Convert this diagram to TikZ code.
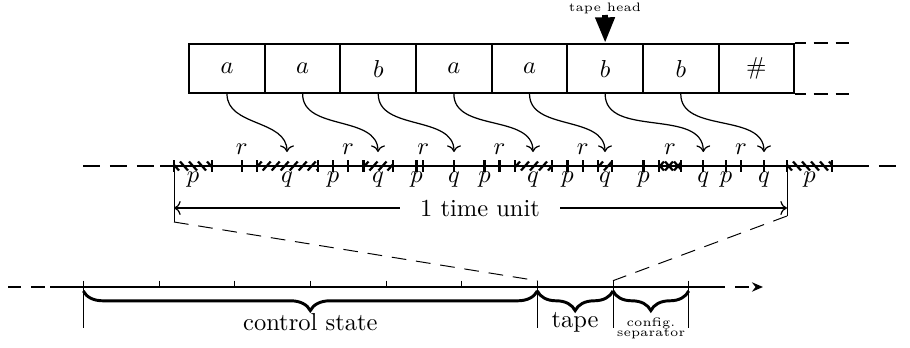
\documentclass[tikz,border=0pt]{standalone}
\usepackage{amsmath,amssymb}
\usepackage{tikz}
\usetikzlibrary{arrows.meta,positioning,decorations.pathreplacing}
% hatched zone on the time line: #1,#2 = ends, #3 = half rise of a stroke
\newcommand{\hzone}[3]{%
  \begin{scope}
    \clip (#1,160) rectangle (#2,172);
    \foreach \k in {0,...,7}
      \draw[hatch] ({#1+9*\k-3},{166+#3}) -- ++(8,{-2*(#3)});
  \end{scope}
  \draw[tck] (#1,160) -- (#1,172) (#2,160) -- (#2,172)}
\tikzset{
  cell/.style   ={draw, minimum width=30.9pt, minimum height=20pt,
                  inner sep=0pt, line width=0.8pt},
  tapeln/.style ={line width=0.8pt},
  axis/.style   ={line width=1.1pt},
  axisd/.style  ={line width=1.1pt, dash pattern=on 7pt off 4pt},
  axise/.style  ={line width=1.1pt, dash pattern=on 5.5pt off 4pt},
  tck/.style    ={line width=0.9pt},
  hatch/.style  ={line width=0.9pt},
  feed/.style   ={->, line width=0.5pt},
  guide/.style  ={line width=0.4pt},
  zoomln/.style ={line width=0.4pt, dash pattern=on 6pt off 4pt},
  brc/.style    ={decorate, decoration={brace, mirror, amplitude=8pt},
                  line width=1.2pt},
  headarr/.style={-{Triangle[length=10.5pt, width=7.5pt]}, line width=2.4pt},
  lab/.style    ={inner sep=0pt},
  small/.style  ={inner sep=0pt, font=\tiny},
}
\begin{document}
\begin{tikzpicture}[x=0.408pt, y=-0.408pt]
  \useasboundingbox (0,0) rectangle (910,347);
  % tape
  \foreach \s [count=\i] in {a,a,b,a,a,b,b,\#}
    \node[cell] (c\i) at ({227+75.63*(\i-1)},68.5) {$\s$};
  \draw[tapeln] (c8.north east) -- ++(11,0) (c8.south east) -- ++(11,0);
  \draw[tapeln, dash pattern=on 6pt off 3pt] ([xshift=7.5pt]c8.north east) -- ++(35,0);
  \draw[tapeln, dash pattern=on 6pt off 3pt] ([xshift=7.5pt]c8.south east) -- ++(35,0);
  \node[small] (hlab) at (605,8) {tape head};
  \coordinate (hd) at (605,15);
  \draw[headarr] (hd) -- (c6.north);
  % time line
  \draw[axisd] (83,166) -- (160,166);
  \draw[axis] (160,166) -- (852,166);
  \draw[axisd] (852,166) -- (905,166);
  \hzone{174}{212}{-4.5};
  \hzone{256.7}{318}{4.5};
  \hzone{363.5}{393}{4.5};
  \hzone{515}{551.7}{4.5};
  \hzone{598}{611.7}{4.5};
  \hzone{659}{681}{4.5};
  \hzone{659}{681}{-4.5};
  \hzone{787}{832}{-4.5};
  \foreach \x in {333,416.5,484.5,567.5,643.5,726,241.7,348,423.3,499.5,582.7,741,454,703.3,764}
    \draw[tck] (\x,160) -- (\x,172);
  \foreach \x [count=\i] in {193,333,416.5,484.5,567.5,643.5,726,809.5}
    \node[lab] (p\i) at (\x,179.4) {$p$};
  \foreach \x [count=\i] in {241.7,348,423.3,499.5,582.7,670,741}
    \node[lab] (r\i) at (\x,149.7) {$r$};
  \foreach \x [count=\i] in {287,378,454,533,605,703.3,764} {
    \node[lab] (q\i) at (\x,179.4) {$q$};
    \coordinate (qa\i) at (\x,152);
    \draw[feed] (c\i.south) to[out=-90, in=90] (qa\i);
  }
  % one time unit
  \coordinate (tl) at (174,222);
  \coordinate (tr) at (787,216);
  \draw[guide] (174,166) -- (tl);
  \draw[guide] (787,166) -- (tr);
  \node[inner xsep=8pt] (tu) at (480,208) {1 time unit};
  \coordinate (tuL) at (174,208);
  \coordinate (tuR) at (787,208);
  \draw[->, line width=0.5pt] (tu) -- (tuL);
  \draw[->, line width=0.5pt] (tu) -- (tuR);
  % configuration line
  \draw[axise] (8,287) -- (50,287);
  \draw[axis] (50,287) -- (712,287);
  \draw[axise, -{Stealth[length=4.5pt, width=3.8pt]}] (712,287) -- (763,287);
  \foreach \x in {83.3,537.3,613,688.7}
    \draw[guide] (\x,280.7) -- (\x,328.3);
  \foreach \x in {159,234.7,310.3,386,461.7}
    \draw[guide] (\x,280.7) -- (\x,287);
  \coordinate (zl) at (537.3,280.7);
  \coordinate (zr) at (613,280.7);
  \draw[zoomln] (tl) -- (zl);
  \draw[zoomln] (tr) -- (zr);
  \draw[brc] (83.3,291) -- (537.3,291);
  \draw[brc] (537.3,291) -- (613,291);
  \draw[brc] (613,291) -- (688.7,291);
  \node[lab] (cs) at (310.3,322.5) {control state};
  \node[lab] (tp) at (575,322.5) {tape};
  \node[small, align=center] (sep) at (651,328.6) {config.\\[-2pt] separator};
\end{tikzpicture}
\end{document}
